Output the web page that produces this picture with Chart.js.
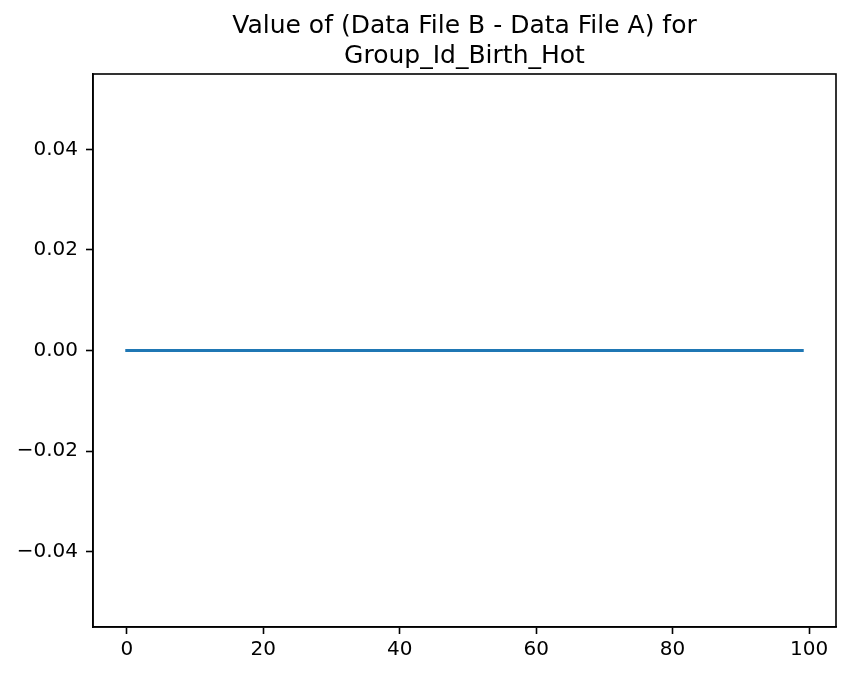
<!DOCTYPE html>
<html>
<head>
<meta charset="utf-8">
<script src="https://cdn.jsdelivr.net/npm/chart.js@4"></script>
<style>
  html, body { margin: 0; padding: 0; background: #fff; }
  #wrap { width: 852px; height: 678px; }
</style>
</head>
<body>
<div id="wrap"><canvas id="diffChart" width="852" height="678"></canvas></div>
<script>
// data
const titleLines = ['Value of (Data File B - Data File A) for', 'Group_Id_Birth_Hot'];
const steps = [0,1,2,3,4,5,6,7,8,9,10,11,12,13,14,15,16,17,18,19,
    20,21,22,23,24,25,26,27,28,29,30,31,32,33,34,35,36,37,38,39,
    40,41,42,43,44,45,46,47,48,49,50,51,52,53,54,55,56,57,58,59,
    60,61,62,63,64,65,66,67,68,69,70,71,72,73,74,75,76,77,78,79,
    80,81,82,83,84,85,86,87,88,89,90,91,92,93,94,95,96,97,98,99];
const diffValues = [0,0,0,0,0,0,0,0,0,0,0,0,0,0,0,0,0,0,0,0,
    0,0,0,0,0,0,0,0,0,0,0,0,0,0,0,0,0,0,0,0,
    0,0,0,0,0,0,0,0,0,0,0,0,0,0,0,0,0,0,0,0,
    0,0,0,0,0,0,0,0,0,0,0,0,0,0,0,0,0,0,0,0,
    0,0,0,0,0,0,0,0,0,0,0,0,0,0,0,0,0,0,0,0];
const xTicks = [0, 20, 40, 60, 80, 100];
const yTicks = [-0.04, -0.02, 0.00, 0.02, 0.04];

const FONT = 'DejaVu Sans';

// title centred over the plot + top/right spines
const frame = {
    id: 'frame',
    afterDraw(chart) {
        const ctx = chart.ctx;
        const a = chart.chartArea;
        ctx.save();
        ctx.strokeStyle = '#000';
        ctx.lineWidth = 1.6;
        ctx.strokeRect(a.left, a.top, a.right - a.left, a.bottom - a.top);
        ctx.fillStyle = '#000';
        ctx.font = '25px "' + FONT + '"';
        ctx.textAlign = 'center';
        ctx.textBaseline = 'alphabetic';
        const cx = (a.left + a.right) / 2;
        ctx.fillText(titleLines[0], cx, 33);
        ctx.fillText(titleLines[1], cx, 63);
        ctx.restore();
    }
};

function fixTicks(list) {
    return function (scale) {
        scale.ticks = list.map(v => ({ value: v }));
    };
}

new Chart(document.getElementById('diffChart'), {
    type: 'line',
    data: {
        datasets: [{
            data: steps.map((x, i) => ({ x: x, y: diffValues[i] })),
            borderColor: '#1f77b4',
            borderWidth: 3,
            borderCapStyle: 'square',
            pointRadius: 0,
            tension: 0,
            fill: false
        }]
    },
    options: {
        responsive: false,
        animation: false,
        events: [],
        layout: { padding: { left: 0, top: 74, right: 16, bottom: 0 } },
        plugins: {
            legend: { display: false },
            title: { display: false },
            tooltip: { enabled: false }
        },
        scales: {
            x: {
                type: 'linear',
                min: -4.95,
                max: 103.95,
                afterBuildTicks: fixTicks(xTicks),
                afterFit(scale) { scale.height = 51; },
                grid: { drawOnChartArea: false, tickLength: 7, tickWidth: 1.6, tickColor: '#000' },
                border: { display: true, color: '#000', width: 1.6 },
                ticks: {
                    color: '#000',
                    padding: 4,
                    maxRotation: 0,
                    font: { family: FONT, size: 20 },
                    callback: v => String(v)
                }
            },
            y: {
                type: 'linear',
                min: -0.055,
                max: 0.055,
                afterBuildTicks: fixTicks(yTicks),
                afterFit(scale) { scale.width = 93; },
                grid: { drawOnChartArea: false, tickLength: 7, tickWidth: 1.6, tickColor: '#000' },
                border: { display: true, color: '#000', width: 1.6 },
                ticks: {
                    color: '#000',
                    padding: 8,
                    font: { family: FONT, size: 20 },
                    callback: v => v.toFixed(2).replace('-', '\u2212')
                }
            }
        }
    },
    plugins: [frame]
});
</script>
</body>
</html>
